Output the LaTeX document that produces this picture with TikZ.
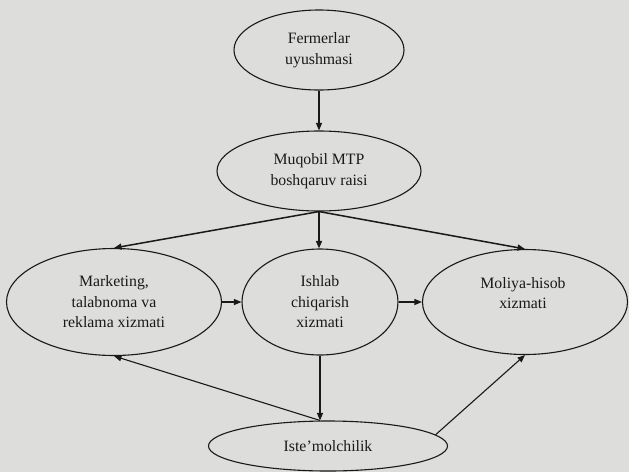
\documentclass[tikz,border=0pt]{standalone}
\usepackage{fontspec}
\setmainfont{Liberation Serif}
\usetikzlibrary{shapes.geometric,arrows.meta}
\definecolor{bgc}{RGB}{221,221,219}
\definecolor{ink}{RGB}{25,25,25}
\begin{document}
\begin{tikzpicture}[x=1pt,y=-1pt,
  ell/.style={draw=ink, ellipse, line width=1.1pt, inner sep=0pt, align=center,
    font=\fontsize{15.8}{20.5}\selectfont, text=ink},
  txt/.style={align=center, font=\fontsize{15.8}{20.5}\selectfont, text=ink},
  arr/.style={draw=ink, line width=1.1pt, -{Triangle[length=7.5pt,width=6pt]}},
  arrT/.style={draw=ink, line width=1.5pt, -{Triangle[length=7.5pt,width=6pt]}}]
\fill[bgc] (0,0) rectangle (629,472);
\useasboundingbox (0,0) rectangle (629,472);

\node[ell, minimum width=170pt, minimum height=80pt] (ferm) at (319,50) {Fermerlar\\uyushmasi};
\node[ell, minimum width=204pt, minimum height=80pt] (muq) at (319,171) {Muqobil MTP\\boshqaruv raisi};
\node[ell, minimum width=215pt, minimum height=107pt] (mark) at (114,302) {Marketing,\\talabnoma va\\reklama xizmati};
\node[ell, minimum width=156pt, minimum height=106pt] (ish) at (320,302) {Ishlab\\chiqarish\\xizmati};
\node[ell, minimum width=205pt, minimum height=105pt] (mol) at (525,302) {};
\node[txt] (moltxt) at (523,293) {Moliya-hisob\\xizmati};
\node[ell, minimum width=239pt, minimum height=50pt] (iste) at (328,446) {Iste’molchilik};

\draw[arr] (ferm.south) -- (muq.north);
\draw[arrT] (muq.south) -- (mark.north);
\draw[arrT] (muq.south) -- (muq.south |- ish.north);
\draw[arrT] (muq.south) -- (mol.north);
\draw[arr] (mark.east) -- (ish.west);
\draw[arr] (ish.east) -- (mol.west);
\coordinate (istetop) at (ish.south |- iste.north);
\draw[arr] (ish.south) -- (istetop);
\draw[arr] (istetop) -- (mark.south);
\draw[arr] (iste.6) -- (mol.south);
\end{tikzpicture}
\end{document}
